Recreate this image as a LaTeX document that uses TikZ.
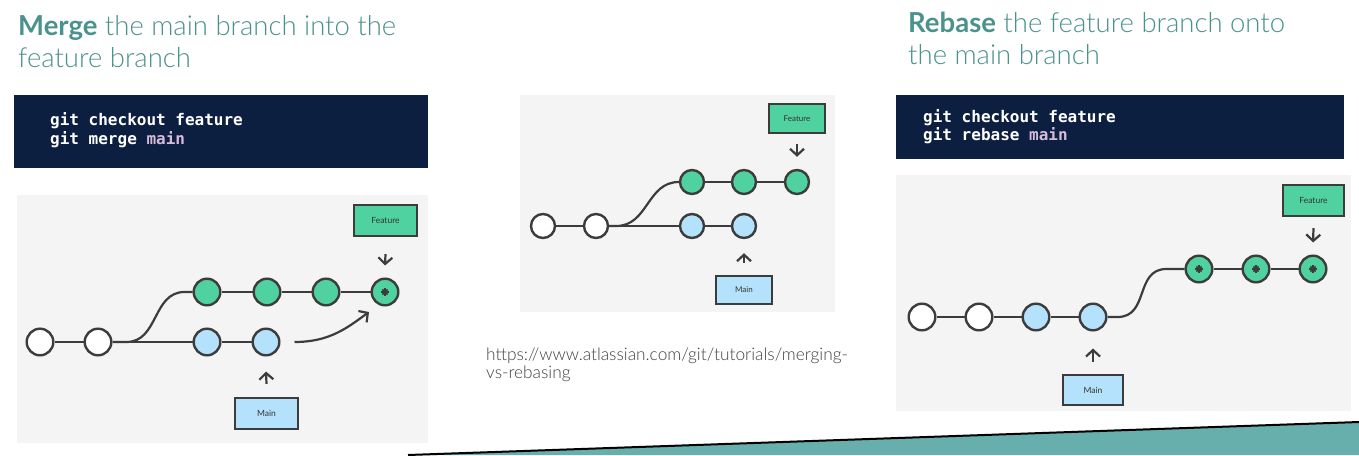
\documentclass[tikz,border=0pt]{standalone}
\usepackage{fontspec}
\setmainfont{Lato}
\newfontfamily\lightfont{Lato Light}
\newfontfamily\codefont{DejaVu Sans Mono}
\usetikzlibrary{arrows.meta,calc}

\definecolor{stroke}{HTML}{3C3C3C}
\definecolor{featgreen}{HTML}{50D2A0}
\definecolor{mainblue}{HTML}{B4E1FB}
\definecolor{panelbg}{HTML}{F4F4F4}
\definecolor{titleteal}{HTML}{4A928D}
\definecolor{codebg}{HTML}{0C1F40}
\definecolor{codemain}{HTML}{D6BCDA}
\definecolor{urlgray}{HTML}{404040}
\definecolor{bandteal}{HTML}{66AFAC}
\definecolor{tagtext}{HTML}{333333}

\tikzset{
  commit/.style={circle, draw=stroke, line width=2.4pt, inner sep=0pt, minimum size=#1},
  commit/.default=26.6pt,
  basec/.style={commit=#1, fill=white},
  basec/.default=26.6pt,
  mainc/.style={commit=#1, fill=mainblue},
  mainc/.default=26.6pt,
  featc/.style={commit=#1, fill=featgreen},
  featc/.default=26.6pt,
  starred/.style={path picture={
    \foreach \a in {0,45,90,135}
      \draw[stroke, line width=1.7pt] (path picture bounding box.center) ++(\a:3.6pt) -- ++(\a+180:7.2pt);
  }},
  edge/.style={draw=stroke, line width=2.2pt},
  ptr/.style={draw=stroke, line width=2.2pt, -{Straight Barb[length=6.5pt, width=14pt]}},
  tag/.style={draw=stroke, line width=2.2pt, inner sep=0pt, text=tagtext,
    font=\fontsize{8.5}{10}\selectfont},
  tagfeat/.style={tag, fill=featgreen},
  tagmain/.style={tag, fill=mainblue},
  title/.style={anchor=base west, inner sep=0pt, text=titleteal,
    font=\lightfont\fontsize{27.5}{30}\selectfont},
  code/.style={anchor=base west, inner sep=0pt, text=white,
    font=\codefont\bfseries\fontsize{16}{19}\selectfont},
  url/.style={anchor=base west, inner sep=0pt, text=urlgray,
    font=\lightfont\fontsize{17.3}{20}\selectfont},
  panel/.style={fill=panelbg, draw=none, inner sep=0pt},
  codebox/.style={fill=codebg, draw=none, inner sep=0pt},
}

\begin{document}
\begin{tikzpicture}[x=1pt, y=-1pt]
\useasboundingbox (0,0) rectangle (1359,455);
\fill[white] (0,0) rectangle (1359,455);

% ---------- headings ----------
\node[title] (mt1) at (18,35) {{\fontspec{Lato}\bfseries Merge} the main branch into the};
\node[title] (mt2) at (18,67) {feature branch};
\node[title] (rt1) at (908,32) {{\fontspec{Lato}\bfseries Rebase} the feature branch onto};
\node[title] (rt2) at (908,64) {the main branch};

% ---------- command boxes ----------
\node[codebox, minimum width=414pt, minimum height=73pt] (mcode) at (221,131.5) {};
\node[code] (mc1) at (50,125) {git checkout feature};
\node[code] (mc2) at (50,144) {git merge \textcolor{codemain}{main}};

\node[codebox, minimum width=448pt, minimum height=64pt] (rcode) at (1120,127) {};
\node[code] (rc1) at (923,122) {git checkout feature};
\node[code] (rc2) at (923,140) {git rebase \textcolor{codemain}{main}};

% ---------- panels ----------
\node[panel, minimum width=411pt, minimum height=248pt] (lpanel) at (222.5,319) {};
\node[panel, minimum width=315pt, minimum height=217pt] (cpanel) at (677.5,203.5) {};
\node[panel, minimum width=455pt, minimum height=236pt] (rpanel) at (1123.5,293) {};

% ---------- merge result ----------
\node[basec] (lw1) at (40,342) {};
\node[basec] (lw2) at (98,342) {};
\node[mainc] (lb1) at (207,342) {};
\node[mainc] (lb2) at (266,342) {};
\node[featc] (lg1) at (207,292) {};
\node[featc] (lg2) at (267,292) {};
\node[featc] (lg3) at (326,292) {};
\node[featc, starred] (lm) at (385,292) {};
\draw[edge] (lw1) -- (lw2);
\draw[edge] (lw2) -- (lb1);
\draw[edge] (lb1) -- (lb2);
\draw[edge] (lg1) -- (lg2);
\draw[edge] (lg2) -- (lg3);
\draw[edge] (lg3) -- (lm);
\draw[edge] (lw2.east) -- ++(14,0) .. controls +(32,0) and +(-32,0) .. ($(lg1.west)+(-8,0)$) -- (lg1.west);
\draw[ptr] ($(lb2.east)+(14,0)$) .. controls +(35,0) and +(-22,16) .. ($(lm)+(-16,20)$);
\node[tagfeat, minimum width=63pt, minimum height=31pt] (lft) at (385.5,220.5) {Feature};
\node[tagmain, minimum width=63pt, minimum height=31pt] (lmt) at (266.5,413.5) {Main};
\draw[ptr] ($(lft.south)+(0,17)$) -- ($(lm.north)+(0,-12)$);
\draw[ptr] ($(lmt.north)+(0,-13)$) -- ($(lb2.south)+(0,15)$);

% ---------- starting point ----------
\node[basec=24pt] (mw1) at (543,226) {};
\node[basec=24pt] (mw2) at (596,226) {};
\node[mainc=24pt] (mb1) at (692,226) {};
\node[mainc=24pt] (mb2) at (744,226) {};
\node[featc=24pt] (mg1) at (692,182) {};
\node[featc=24pt] (mg2) at (744,182) {};
\node[featc=24pt] (mg3) at (797,182) {};
\draw[edge] (mw1) -- (mw2);
\draw[edge] (mw2) -- (mb1);
\draw[edge] (mb1) -- (mb2);
\draw[edge] (mg1) -- (mg2);
\draw[edge] (mg2) -- (mg3);
\draw[edge] (mw2.east) -- ++(7,0) .. controls +(32,0) and +(-32,0) .. (mg1.west);
\node[tagfeat, minimum width=56pt, minimum height=29pt, font=\fontsize{8}{9}\selectfont] (mft) at (797,118.5) {Feature};
\node[tagmain, minimum width=56pt, minimum height=28pt, font=\fontsize{8}{9}\selectfont] (mmt) at (744,290) {Main};
\draw[ptr] ($(mft.south)+(0,10)$) -- ($(mg3.north)+(0,-12)$);
\draw[ptr] ($(mmt.north)+(0,-12)$) -- ($(mb2.south)+(0,14)$);

\node[url] (u1) at (486,360) {https://www.atlassian.com/git/tutorials/merging-};
\node[url] (u2) at (486,378) {vs-rebasing};

% ---------- rebase result ----------
\node[basec] (rw1) at (922,317) {};
\node[basec] (rw2) at (979,317) {};
\node[mainc] (rb1) at (1036,317) {};
\node[mainc] (rb2) at (1093,317) {};
\node[featc, starred] (rg1) at (1199,269) {};
\node[featc, starred] (rg2) at (1256,269) {};
\node[featc, starred] (rg3) at (1313,269) {};
\draw[edge] (rw1) -- (rw2);
\draw[edge] (rw2) -- (rb1);
\draw[edge] (rb1) -- (rb2);
\draw[edge] (rg1) -- (rg2);
\draw[edge] (rg2) -- (rg3);
\draw[edge] (rb2.east) -- ++(10,0) .. controls +(32,0) and +(-32,0) .. ($(rg1.west)+(-18,0)$) -- (rg1.west);
\node[tagfeat, minimum width=61pt, minimum height=31pt] (rft) at (1313.5,200.5) {Feature};
\node[tagmain, minimum width=60pt, minimum height=30pt] (rmt) at (1093,390) {Main};
\draw[ptr] ($(rft.south)+(0,11)$) -- ($(rg3.north)+(0,-12)$);
\draw[ptr] ($(rmt.north)+(0,-12)$) -- ($(rb2.south)+(0,17)$);

% ---------- bottom band ----------
\fill[bandteal] (408,455) -- (1359,422) -- (1359,455) -- cycle;
\draw[black, line width=2pt] (408,455) -- (1359,422);
\end{tikzpicture}
\end{document}
